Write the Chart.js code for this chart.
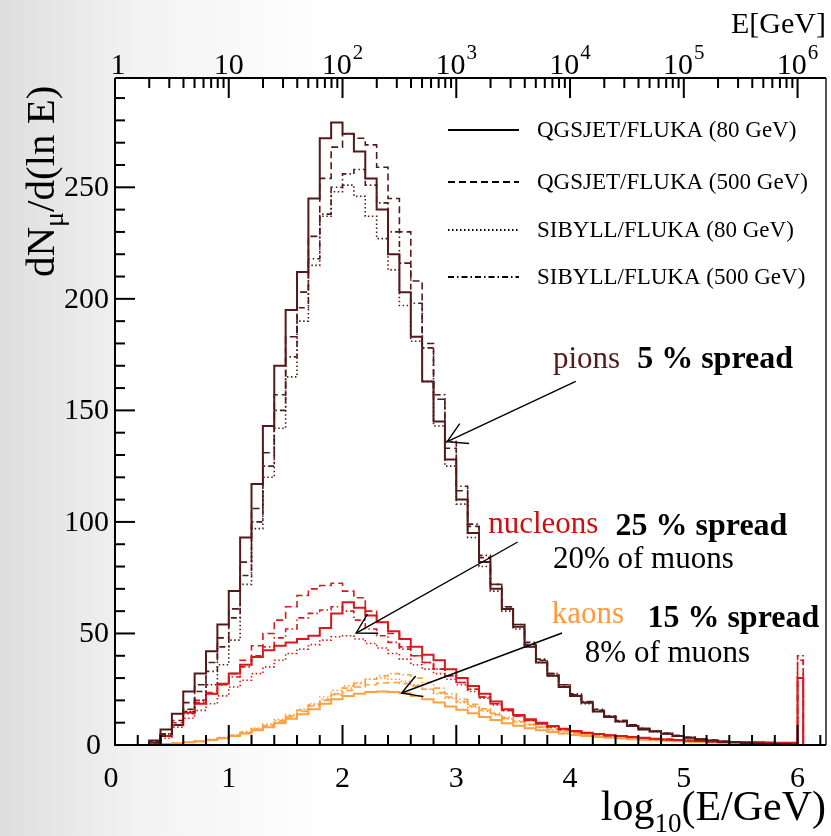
<!DOCTYPE html>
<html>
<head>
<meta charset="utf-8">
<title>Muon parent energy spectra</title>
<script src="https://cdn.jsdelivr.net/npm/chart.js@4.4.1/dist/chart.umd.min.js"></script>
<style>
  html, body { margin: 0; padding: 0; background: #fff; }
  #wrap { width: 831px; height: 836px; }
  canvas { display: block; }
</style>
</head>
<body>
<div id="wrap"><canvas id="c" width="831" height="836"></canvas></div>
<script>
// ---- histogram binning: low edge of each log10(E/GeV) bin (width 0.1) ----
const binLow = [0.0,0.1,0.2,0.3,0.4,0.5,0.6,0.7,0.8,0.9,1.0,1.1,1.2,1.3,1.4,1.5,1.6,1.7,1.8,1.9,
                2.0,2.1,2.2,2.3,2.4,2.5,2.6,2.7,2.8,2.9,3.0,3.1,3.2,3.3,3.4,3.5,3.6,3.7,3.8,3.9,
                4.0,4.1,4.2,4.3,4.4,4.5,4.6,4.7,4.8,4.9,5.0,5.1,5.2,5.3,5.4,5.5,5.6,5.7,5.8,5.9];
// narrow bin holding the leading-nucleon peak at the primary energy
const spikeBin = [6.0, 6.05];

// ---- model labels (legend order) ----
const models = ['QGSJET/FLUKA (80 GeV)', 'QGSJET/FLUKA (500 GeV)',
                'SIBYLL/FLUKA (80 GeV)', 'SIBYLL/FLUKA (500 GeV)'];

// ---- dN_mu/d(ln E) from pion parents ----
const pionQ80 = [0,0,0,2,7,14,24,32,42,54, 69,93,117,143,170,195,212,245,272,279,
                 274,266,254,240,220,203,183,163,145,128, 110,95,82,70,61,53,44,37,31,26,
                 22,19,15,12.5,10.5,8.5,7,6,5,4, 3.2,2.5,2,1.5,1.2,0.9,0.6,0.4,0.3,0.2];
const pionQ500 = [0,0,0,1.5,5,11,19,27,37,48, 61,82,106,131,157,183,203,228,254,268,
                  274,272,269,259,245,230,208,180,155,133, 114,98,84,72,62,54,45,38,32,27,
                  22.5,19,15.5,13,11,9,7.5,6.2,5.2,4.2, 3.4,2.7,2.1,1.6,1.3,1.0,0.7,0.5,0.3,0.2];
const pionS80 = [0,0,0,1.5,5,9,15,20,27,36, 47,72,97,120,142,165,190,215,237,248,
                 251,246,237,227,213,197,181,163,143,125, 108,93,80,69,60,52,44,37,31,26,
                 22,18.5,15,12.5,10.5,8.5,7,6,5,4, 3.2,2.5,2,1.5,1.2,0.9,0.6,0.4,0.3,0.2];
const pionS500 = [0,0,0,1,4,9,16,24,33,44, 57,76,100,125,150,174,196,218,238,250,
                  256,258,251,243,230,216,198,178,157,136, 116,99,85,72,62,54,46,38.5,32,27,
                  23,19.5,16,13,11,9,7.5,6.2,5.2,4.2, 3.4,2.7,2.1,1.6,1.3,1.0,0.7,0.5,0.3,0.2];

// ---- dN_mu/d(ln E) from nucleon parents ----
const nucQ80 = [0,0,0,1,4,9,14.5,18.5,23,27.5, 32,36,39.5,42.5,44.5,46,47.5,49,52.5,59,
                64,61.5,58,55,51,47.5,44,40.5,38,34, 30,26.5,23,19.5,16,13.5,11.5,10,8.5,7.3,
                6.3,5.5,4.9,4.4,4,3.6,3.2,2.8,2.5,2.2, 2,1.8,1.6,1.5,1.4,1.3,1.2,1.1,1.0,1.0];
const nucQ500 = [0,0,0,1,5,10,15,20,23.5,27, 32,38,44.5,50,56,62,67,70,71.5,72.5,
                 69,66,60,55,50,44,40,37,34,31, 28,25,21.5,18.5,15.5,13,11,9.5,8.2,7,
                 6.1,5.4,4.8,4.3,3.9,3.5,3.1,2.8,2.5,2.2, 2,1.8,1.6,1.5,1.4,1.3,1.2,1.1,1.0,1.0];
const nucS80 = [0,0,0,0.5,3,8,12,15.5,18.5,22, 26,29,32,35,38,41,43,45,47,48.5,
                49,47.5,45.5,43.5,41,38.5,36,34,32,29.5, 27,24,21,18,15.5,13,11,9.3,8,6.9,
                6,5.3,4.7,4.2,3.8,3.4,3,2.7,2.4,2.1, 1.9,1.7,1.5,1.4,1.3,1.2,1.1,1.0,0.9,0.9];
const nucS500 = [0,0,0,1,4,9,14,19,23,27, 30.5,35,40,44,48,52,57,59,60.5,62,
                 60,56,52,49,46,43,40,37,34,31, 28,25,21.5,18.5,15.5,13,11,9.5,8.2,7,
                 6.1,5.4,4.8,4.3,3.9,3.5,3.1,2.8,2.5,2.2, 2,1.8,1.6,1.5,1.4,1.3,1.2,1.1,1.0,1.0];
// content of the leading-nucleon bin, per model (legend order)
const nucleonSpike = [30, 38, 30, 40];

// ---- dN_mu/d(ln E) from kaon parents ----
const kaonQ80 = [0,0,0,0.2,0.4,0.8,1.2,1.6,2.2,3, 4,5.2,6.6,8,9.8,11.8,13.8,16,18.5,20.5,
                 22,23,23.8,24,23.8,23.2,22,20.5,19,17.3, 15.8,14.2,12.6,11.2,9.8,8.6,7.5,6.6,5.8,5.1,
                 4.5,4,3.6,3.2,2.9,2.6,2.3,2.1,1.9,1.7, 1.5,1.3,1.1,0.9,0.7,0.5,0.4,0.3,0.2,0.1];
const kaonQ500 = [0,0,0,0.2,0.4,0.8,1.2,1.7,2.3,3.1, 4.2,5.5,7,8.6,10.5,12.6,15,17.5,20,22.5,
                  24.5,26,27,27.8,28,27.5,26.5,25,23.5,21.5, 19.5,17.5,15.5,13.7,12,10.5,9.2,8,7,6.1,
                  5.4,4.7,4.1,3.6,3.2,2.8,2.5,2.2,2,1.8, 1.6,1.4,1.2,1,0.8,0.6,0.5,0.4,0.3,0.2];
const kaonS80 = [0,0,0,0.2,0.4,0.9,1.4,1.9,2.6,3.5, 4.6,6,7.6,9.4,11.4,13.5,16,18.5,21.5,24.5,
                 26.5,28,29.5,30,29.5,28.5,27,25,23,21, 19,17,15,13.3,11.7,10.2,8.9,7.8,6.8,6,
                 5.2,4.6,4,3.5,3.1,2.7,2.4,2.1,1.9,1.7, 1.5,1.3,1.1,0.9,0.7,0.6,0.5,0.4,0.3,0.2];
const kaonS500 = [0,0,0,0.2,0.4,0.8,1.3,1.8,2.4,3.2, 4.3,5.7,7.3,9,11,13,15.5,18,20.5,23,
                  25.5,27.5,29.5,31,32,31.5,30,28,25.5,23, 20.5,18.3,16.2,14.2,12.4,10.8,9.4,8.2,7.2,6.3,
                  5.5,4.8,4.2,3.7,3.3,2.9,2.6,2.3,2,1.8, 1.6,1.4,1.2,1,0.8,0.6,0.5,0.4,0.3,0.2];

// ---- axis ticks ----
const xTickLabels = ['0','1','2','3','4','5','6'];
const yTickLabels = ['0','50','100','150','200','250'];
const topDecades = [0,1,2,3,4,5,6];   // E = 10^k GeV
const xMinorStep = 0.2;
const yMinorStep = 10;

// ---- axis ranges ----
const X_MAX = 6.25;
const Y_MAX = 299;

// ---- styles ----
const SERIF = '"Liberation Serif", "Times New Roman", serif';
const pionColor = '#531a1a';
const nucColor = '#d7191c';
const kaonColor = '#ffa040';
const dashes = [[], [7, 4], [1.5, 2.5], [6, 3, 1.5, 3]];
const widths = [2, 1.6, 1.6, 1.6];
const TICK_COLOR = '#000';
const TICK_W = 2;

function histPoints(values, spike) {
  const pts = values.map((v, i) => ({ x: binLow[i], y: v }));
  pts.push({ x: spikeBin[0], y: spike || 0 });
  pts.push({ x: spikeBin[1], y: 0 });
  pts.push({ x: X_MAX, y: 0 });
  return pts;
}

function makeSet(label, values, color, m, spike) {
  return {
    label: label,
    data: histPoints(values, spike),
    borderColor: color,
    borderWidth: widths[m],
    borderDash: dashes[m],
    borderCapStyle: 'butt',
    stepped: 'before',
    pointRadius: 0,
    fill: false,
    tension: 0
  };
}

const datasets = [
  makeSet('pions ' + models[0], pionQ80, pionColor, 0),
  makeSet('pions ' + models[1], pionQ500, pionColor, 1),
  makeSet('pions ' + models[2], pionS80, pionColor, 2),
  makeSet('pions ' + models[3], pionS500, pionColor, 3),
  makeSet('nucleons ' + models[0], nucQ80, nucColor, 0, nucleonSpike[0]),
  makeSet('nucleons ' + models[1], nucQ500, nucColor, 1, nucleonSpike[1]),
  makeSet('nucleons ' + models[2], nucS80, nucColor, 2, nucleonSpike[2]),
  makeSet('nucleons ' + models[3], nucS500, nucColor, 3, nucleonSpike[3]),
  makeSet('kaons ' + models[0], kaonQ80, kaonColor, 0),
  makeSet('kaons ' + models[1], kaonQ500, kaonColor, 1),
  makeSet('kaons ' + models[2], kaonS80, kaonColor, 2),
  makeSet('kaons ' + models[3], kaonS500, kaonColor, 3)
];

// ---- annotations (data coordinates) ----
const notes = [
  { text: 'pions', x: 3.85, y: 169, color: pionColor, bold: false },
  { text: '5 % spread', x: 4.59, y: 169, color: '#000', bold: true },
  { text: 'nucleons', x: 3.28, y: 95, color: '#cc1010', bold: false },
  { text: '25 % spread', x: 4.40, y: 94, color: '#000', bold: true },
  { text: '20% of muons', x: 3.85, y: 79.5, color: '#000', bold: false },
  { text: 'kaons', x: 3.84, y: 54.5, color: '#ff9a3c', bold: false },
  { text: '15 % spread', x: 4.68, y: 53, color: '#000', bold: true },
  { text: '8% of muons', x: 4.13, y: 37.3, color: '#000', bold: false }
];
const arrows = [
  { from: [4.05, 163], to: [2.92, 136] },
  { from: [3.54, 91], to: [2.12, 50.2] },
  { from: [3.93, 50.2], to: [2.52, 23.3] }
];

function line(ctx, x1, y1, x2, y2) {
  ctx.beginPath(); ctx.moveTo(x1, y1); ctx.lineTo(x2, y2); ctx.stroke();
}

// background: light slide gradient, white plotting area
const backdrop = {
  id: 'backdrop',
  beforeDraw(chart) {
    const { ctx, chartArea: a } = chart;
    ctx.save();
    const g = ctx.createLinearGradient(0, 0, chart.width, 0);
    g.addColorStop(0, '#dedede');
    g.addColorStop(0.17, '#f3f3f3');
    g.addColorStop(0.4, '#ffffff');
    ctx.fillStyle = g;
    ctx.fillRect(0, 0, chart.width, chart.height);
    ctx.fillStyle = '#ffffff';
    ctx.fillRect(a.left, a.top, a.right - a.left, a.bottom - a.top);
    ctx.restore();
  }
};

// inward tick marks on the bottom, left and top axes
const axisTicks = {
  id: 'axisTicks',
  afterDraw(chart) {
    const { ctx, chartArea: a } = chart;
    const xs = chart.scales.x, ys = chart.scales.y, xt = chart.scales.xTop;
    ctx.save();
    ctx.fillStyle = TICK_COLOR;
    const nx = Math.floor(X_MAX / xMinorStep + 1e-6);
    for (let i = 0; i <= nx; i++) {
      const px = xs.getPixelForValue(i * xMinorStep);
      const len = (i % 5 === 0) ? 20 : 10;
      ctx.fillRect(px - TICK_W / 2, a.bottom - len, TICK_W, len);
    }
    const ny = Math.floor(Y_MAX / yMinorStep + 1e-6);
    for (let j = 0; j <= ny; j++) {
      const py = ys.getPixelForValue(j * yMinorStep);
      const len = (j % 5 === 0) ? 20 : 10;
      ctx.fillRect(a.left, py - TICK_W / 2, len, TICK_W);
    }
    topDecades.forEach((d) => {
      for (let k = 1; k <= 9; k++) {
        const v = d + Math.log10(k);
        if (v > X_MAX) break;
        const px = xt.getPixelForValue(v);
        const len = (k === 1) ? 20 : 10;
        ctx.fillRect(px - TICK_W / 2, a.top, TICK_W, len);
      }
    });
    ctx.restore();
  }
};

const decor = {
  id: 'decor',
  afterDraw(chart) {
    const { ctx, chartArea: a } = chart;
    const xs = chart.scales.x, ys = chart.scales.y, xt = chart.scales.xTop;
    ctx.save();
    ctx.setLineDash([]);

    // frame
    ctx.lineWidth = 2;
    ctx.strokeStyle = '#555';
    line(ctx, a.right, a.top, a.right, a.bottom);
    ctx.strokeStyle = '#000';
    line(ctx, a.left, a.top, a.right, a.top);
    line(ctx, a.left, a.top, a.left, a.bottom);
    line(ctx, a.left - 1, a.bottom, a.right, a.bottom);

    // tick labels
    ctx.fillStyle = '#000';
    ctx.font = '30px ' + SERIF;
    ctx.textAlign = 'center';
    ctx.textBaseline = 'alphabetic';
    xTickLabels.forEach((t) => {
      const v = Number(t);
      const px = xs.getPixelForValue(v) + (v === 0 ? -4 : 0);
      ctx.fillText(t, px, a.bottom + 42);
    });
    ctx.textAlign = 'right';
    ctx.textBaseline = 'middle';
    yTickLabels.forEach((t) => {
      const py = ys.getPixelForValue(Number(t));
      ctx.fillText(t, a.left - 6 - (t === '0' ? 8 : 0), py + 1);
    });

    // top energy axis labels
    ctx.textBaseline = 'alphabetic';
    ctx.textAlign = 'left';
    topDecades.forEach((d) => {
      const px = xt.getPixelForValue(d);
      const base = d === 0 ? '1' : '10';
      const sup = d >= 2 ? String(d) : '';
      ctx.font = '30px ' + SERIF;
      const w1 = ctx.measureText(base).width;
      ctx.font = '21px ' + SERIF;
      const w2 = sup ? ctx.measureText(sup).width + 1 : 0;
      const x0 = px - (w1 + w2) / 2 + (d === 0 ? 3 : 0);
      ctx.font = '30px ' + SERIF;
      ctx.fillText(base, x0, a.top - 4);
      if (sup) {
        ctx.font = '21px ' + SERIF;
        ctx.fillText(sup, x0 + w1 + 1, a.top - 19);
      }
    });
    ctx.font = '30px ' + SERIF;
    ctx.textAlign = 'right';
    ctx.fillText('E[GeV]', a.right, 33);

    // x-axis title: log10(E/GeV)
    {
      const parts = [
        { t: 'log', f: 42, dy: 0 },
        { t: '10', f: 27, dy: 12 },
        { t: '(E/GeV)', f: 42, dy: 0 }
      ];
      let W = 0;
      parts.forEach(p => { ctx.font = p.f + 'px ' + SERIF; p.w = ctx.measureText(p.t).width; W += p.w; });
      let x = a.right - W;
      ctx.textAlign = 'left';
      parts.forEach(p => { ctx.font = p.f + 'px ' + SERIF; ctx.fillText(p.t, x, 820 + p.dy); x += p.w; });
    }

    // y-axis title: dN_mu/d(ln E)
    {
      const parts = [
        { t: 'dN', f: 41, dy: 0 },
        { t: 'μ', f: 28, dy: 9 },
        { t: '/d(ln E)', f: 41, dy: 0 }
      ];
      ctx.save();
      ctx.translate(54, 277);
      ctx.rotate(-Math.PI / 2);
      ctx.textAlign = 'left';
      let x = 0;
      parts.forEach(p => { ctx.font = p.f + 'px ' + SERIF; ctx.fillText(p.t, x, p.dy); x += ctx.measureText(p.t).width; });
      ctx.restore();
    }

    // legend (line style per model)
    {
      const rowY = [a.top + 52, a.top + 104, a.top + 152, a.top + 199];
      const lx0 = a.left + 333, lx1 = a.left + 404, tx = a.left + 422;
      ctx.strokeStyle = '#000';
      ctx.fillStyle = '#000';
      ctx.textAlign = 'left';
      ctx.textBaseline = 'middle';
      ctx.font = '23px ' + SERIF;
      models.forEach((m, i) => {
        ctx.lineWidth = i === 0 ? 2.2 : 1.8;
        ctx.setLineDash(dashes[i]);
        line(ctx, lx0, rowY[i], lx1, rowY[i]);
        ctx.setLineDash([]);
        ctx.fillText(m, tx, rowY[i] + 1);
      });
    }

    // arrows
    ctx.strokeStyle = '#000';
    ctx.lineWidth = 1.4;
    arrows.forEach(ar => {
      const x1 = xs.getPixelForValue(ar.from[0]), y1 = ys.getPixelForValue(ar.from[1]);
      const x2 = xs.getPixelForValue(ar.to[0]), y2 = ys.getPixelForValue(ar.to[1]);
      line(ctx, x1, y1, x2, y2);
      const ang = Math.atan2(y1 - y2, x1 - x2);
      const L = 22, spread = Math.PI / 6;
      ctx.beginPath();
      ctx.moveTo(x2 + L * Math.cos(ang - spread), y2 + L * Math.sin(ang - spread));
      ctx.lineTo(x2, y2);
      ctx.lineTo(x2 + L * Math.cos(ang + spread), y2 + L * Math.sin(ang + spread));
      ctx.stroke();
    });

    // annotation texts
    ctx.textAlign = 'left';
    ctx.textBaseline = 'alphabetic';
    notes.forEach(n => {
      ctx.font = (n.bold ? 'bold 32px ' : '31px ') + SERIF;
      ctx.fillStyle = n.color;
      ctx.fillText(n.text, xs.getPixelForValue(n.x), ys.getPixelForValue(n.y));
    });

    ctx.restore();
  }
};

new Chart(document.getElementById('c'), {
  type: 'line',
  data: { datasets: datasets },
  options: {
    responsive: false,
    animation: false,
    devicePixelRatio: 1,
    layout: { padding: { left: 0, right: 5, top: 0, bottom: 0 } },
    plugins: { legend: { display: false }, tooltip: { enabled: false } },
    scales: {
      x: {
        type: 'linear', position: 'bottom', min: 0, max: X_MAX,
        ticks: { display: false }, grid: { display: false }, border: { display: false },
        afterFit: (s) => { s.height = 91; }
      },
      xTop: {
        type: 'linear', axis: 'x', position: 'top', min: 0, max: X_MAX,
        ticks: { display: false }, grid: { display: false }, border: { display: false },
        afterFit: (s) => { s.height = 78; }
      },
      y: {
        type: 'linear', position: 'left', min: 0, max: Y_MAX,
        ticks: { display: false }, grid: { display: false }, border: { display: false },
        afterFit: (s) => { s.width = 115; }
      }
    }
  },
  plugins: [backdrop, decor, axisTicks]
});
</script>
</body>
</html>
